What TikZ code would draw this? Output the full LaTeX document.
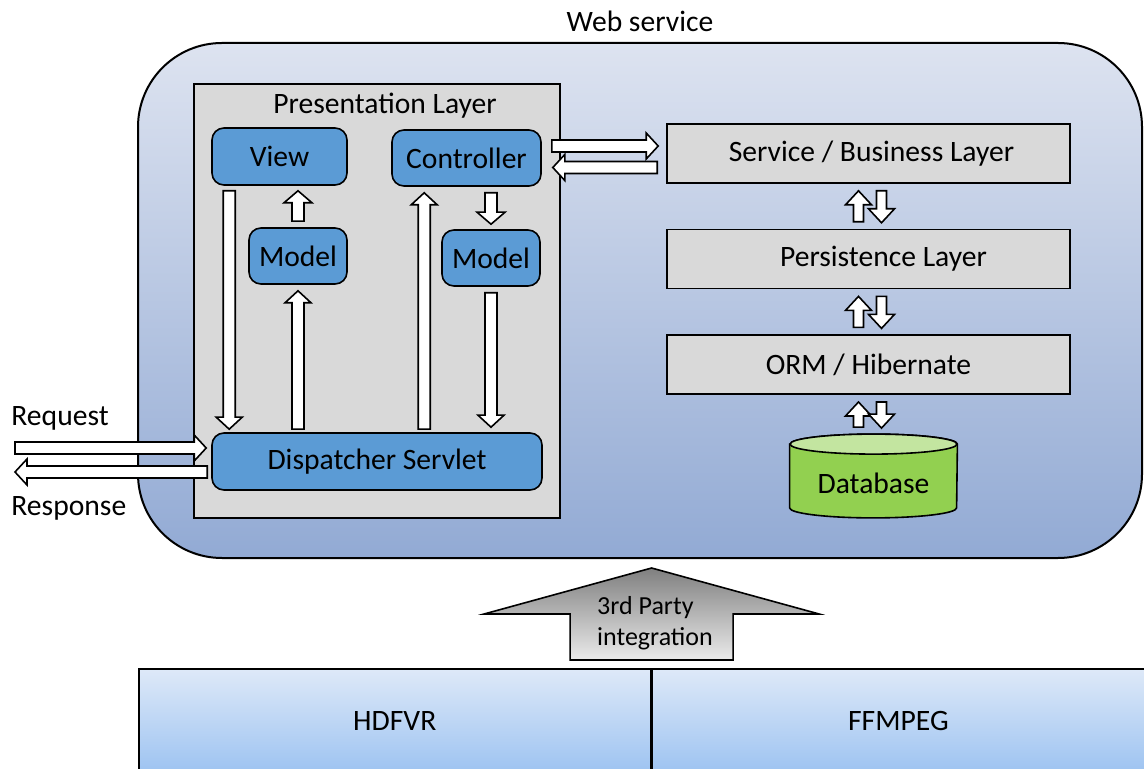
\documentclass[tikz,border=0pt]{standalone}
\usepackage{fontspec}
\setmainfont{Carlito}
\usetikzlibrary{calc,positioning}

\definecolor{boxblue}{HTML}{5B9BD5}
\definecolor{boxgray}{HTML}{D9D9D9}
\definecolor{webtop}{RGB}{221,227,240}
\definecolor{webbot}{RGB}{146,170,212}
\definecolor{dbgreen}{HTML}{92D050}
\definecolor{dblight}{HTML}{C3E5A0}
\definecolor{libtop}{RGB}{222,233,248}
\definecolor{libbot}{RGB}{157,195,241}

\tikzset{
  fat shaft/.store in=\fatS, fat head/.store in=\fatH, fat len/.store in=\fatL,
  fat shaft=3pt, fat head=6.5pt, fat len=6pt,
  % hollow block arrow drawn from start to target
  fatarrow/.style={draw=black, fill=white, line width=0.8pt,
    to path={
      (\tikztostart) coordinate (fat-s)
      (\tikztotarget) coordinate (fat-e)
      ($(fat-e)!\fatL!(fat-s)$) coordinate (fat-h)
      ($(fat-s)!\fatS!90:(fat-e)$)
      -- ($(fat-h)!\fatS!90:(fat-e)$)
      -- ($(fat-h)!\fatH!90:(fat-e)$)
      -- (fat-e)
      -- ($(fat-h)!\fatH!-90:(fat-e)$)
      -- ($(fat-h)!\fatS!-90:(fat-e)$)
      -- ($(fat-s)!\fatS!-90:(fat-e)$)
      -- cycle
    }},
}

\begin{document}
\begin{tikzpicture}[x=0.5pt, y=-0.5pt, font=\fontsize{14.8}{17.5}\selectfont,
    webbox/.style={draw, line width=1pt, rounded corners=42pt, top color=webtop, bottom color=webbot},
    bluebox/.style={draw, line width=0.8pt, fill=boxblue, rounded corners=6pt, inner sep=0pt},
    graybox/.style={draw, line width=0.8pt, fill=boxgray, inner sep=0pt},
    layerbox/.style={graybox, minimum width=201.5pt, minimum height=29.5pt},
    libbox/.style={draw, line width=0.8pt, top color=libtop, bottom color=libbot, inner sep=0pt},
    smallarrow/.style={fatarrow, fat shaft=2.5pt, fat head=6.5pt, fat len=7pt},
    bigarrow/.style={fatarrow, fat shaft=40.75pt, fat head=83.75pt, fat len=23pt,
      top color=black!50, bottom color=black!8}]
  \useasboundingbox (0,0) rectangle (1144,769);
  \clip (0,0) rectangle (1144,769);

  % Web service container
  \node[webbox, minimum width=502pt, minimum height=257.5pt] (web) at (640,300.5) {};
  \node (webl) at (640,21) {Web service};

  % Presentation layer
  \node[graybox, minimum width=183pt, minimum height=217pt] (pres) at (377,301) {};
  \node (presl) at (385,106) {Presentation Layer};
  \node[bluebox, minimum width=67.5pt, minimum height=28.5pt] (view) at (279.5,156.5) {View};
  \node[bluebox, minimum width=74.5pt, minimum height=28pt] (ctrl) at (466.5,158) {Controller};
  \node[bluebox, minimum width=49pt, minimum height=28pt] (modl) at (298,256) {Model};
  \node[bluebox, minimum width=49pt, minimum height=28pt] (modr) at (491,258) {Model};
  \node[bluebox, minimum width=165pt, minimum height=28.5pt] (disp) at (377,461.5) {Dispatcher Servlet};

  \draw[fatarrow] ($(view.south west)+(18,5)$) to ($(disp.north west)+(18,-3)$);
  \draw[fatarrow, fat head=7pt] ($(modl.north)+(0,-6)$) to ($(view.south -| modl.north)+(0,5)$);
  \draw[fatarrow] ($(disp.north -| modl.north)+(0,-3)$) to ($(modl.south)+(0,6)$);
  \draw[fatarrow] ($(disp.north west)+(213,-3)$) to ($(ctrl.south west)+(33,6)$);
  \draw[fatarrow, fat head=7pt] ($(ctrl.south -| modr.north)+(0,6)$) to ($(modr.north)+(0,-5)$);
  \draw[fatarrow] ($(modr.south)+(0,6)$) to ($(disp.north -| modr.south)+(0,-5)$);

  % Request / response
  \coordinate (reqin) at (15,448);
  \coordinate (resout) at (15,472);
  \node[anchor=west, inner sep=0pt] (reql) at (11,418) {Request};
  \node[anchor=west, inner sep=0pt] (resl) at (11,508) {Response};
  \draw[fatarrow] (reqin) to ($(disp.west)+(-5,-13.5)$);
  \draw[fatarrow] ($(disp.west)+(-4,10.5)$) to (resout);

  % Back end layers
  \node[layerbox] (serv) at (868.5,153.5) {\hspace{3pt}Service / Business Layer};
  \node[layerbox, below=22.5pt of serv] (pers) {\hspace{15pt}Persistence Layer};
  \node[layerbox, below=22.5pt of pers] (orm) {ORM / Hibernate};

  \draw[fatarrow] ($(ctrl.east)+(10,-12)$) to ($(serv.west)+(-8,-7.5)$);
  \draw[fatarrow] ($(serv.west)+(-9,14)$) to ($(ctrl.east)+(11,9.5)$);

  % Database
  \node[minimum width=83.5pt, minimum height=41.5pt, inner sep=0pt] (db) at (873.5,476) {};
  \filldraw[fill=dbgreen, line width=0.8pt] ([yshift=-5pt]db.north west) -- ([yshift=5pt]db.south west)
    arc[start angle=180, end angle=360, x radius=41.75pt, y radius=5pt]
    -- ([yshift=-5pt]db.north east)
    arc[start angle=0, end angle=180, x radius=41.75pt, y radius=5pt] -- cycle;
  \filldraw[fill=dblight, line width=0.8pt] ([yshift=-5pt]db.north) ellipse[x radius=41.75pt, y radius=5pt];
  \node (dbl) at ([yshift=-3.5pt]db.center) {Database};

  \foreach \a/\b in {serv/pers, pers/orm, orm/db} {
    \draw[smallarrow] ($(\b.north -| \a.south)+(-10,-7)$) to ($(\a.south)+(-10,7)$);
    \draw[smallarrow] ($(\a.south)+(13,7)$) to ($(\b.north -| \a.south)+(13,-6)$);
  }

  % Third party libraries
  \node[libbox, anchor=north west, minimum width=256pt, minimum height=52pt] (hdfvr) at (138,668) {HDFVR};
  \node[libbox, anchor=north west, minimum width=246pt, minimum height=52pt] (ffmpeg) at (hdfvr.north east) {FFMPEG};

  \draw[bigarrow] ($(hdfvr.north east)+(0,-8)$) to ($(hdfvr.north east |- web.south)+(0,9)$);
  \node[font=\fontsize{13}{15.5}\selectfont, align=left] (thirdl) at (655,623) {3rd Party\\integration};
\end{tikzpicture}
\end{document}
